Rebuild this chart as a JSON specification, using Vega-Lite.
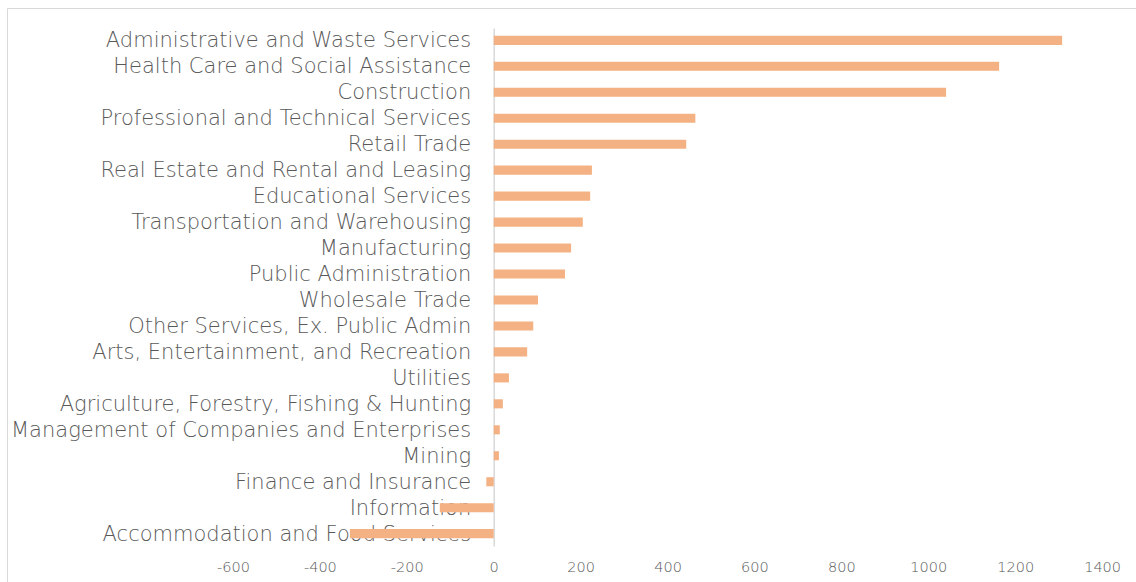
{
  "$schema": "https://vega.github.io/schema/vega-lite/v6.json",
  "width": 1136,
  "height": 582,
  "autosize": {"type": "fit", "contains": "padding"},
  "padding": {"left": 7, "top": 8, "right": 0, "bottom": 0},
  "background": "white",
  "config": {
    "view": {"stroke": "#D9D9D9", "strokeWidth": 1},
    "font": "DejaVu Sans"
  },
  "data": {
    "values": [
      {"industry": "Administrative and Waste Services", "change": 1308},
      {"industry": "Health Care and Social Assistance", "change": 1163},
      {"industry": "Construction", "change": 1041},
      {"industry": "Professional and Technical Services", "change": 464},
      {"industry": "Retail Trade", "change": 443},
      {"industry": "Real Estate and Rental and Leasing", "change": 226},
      {"industry": "Educational Services", "change": 222},
      {"industry": "Transportation and Warehousing", "change": 205},
      {"industry": "Manufacturing", "change": 178},
      {"industry": "Public Administration", "change": 164},
      {"industry": "Wholesale Trade", "change": 102},
      {"industry": "Other Services, Ex. Public Admin", "change": 91},
      {"industry": "Arts, Entertainment, and Recreation", "change": 77},
      {"industry": "Utilities", "change": 35},
      {"industry": "Agriculture, Forestry, Fishing & Hunting", "change": 21},
      {"industry": "Management of Companies and Enterprises", "change": 14},
      {"industry": "Mining", "change": 12},
      {"industry": "Finance and Insurance", "change": -17},
      {"industry": "Information", "change": -124},
      {"industry": "Accommodation and Food Services", "change": -331}
    ]
  },
  "mark": {"type": "bar", "color": "#F4B183"},
  "encoding": {
    "y": {
      "field": "industry",
      "type": "nominal",
      "sort": null,
      "scale": {"range": [20, 538], "paddingInner": 0.65, "paddingOuter": 0.3},
      "axis": {
        "title": null,
        "offset": -486.7,
        "ticks": false,
        "domain": true,
        "domainColor": "#D9D9D9",
        "domainWidth": 1.5,
        "labelPadding": 23,
        "labelOffset": 1,
        "labelFont": "DejaVu Sans",
        "labelFontWeight": 200,
        "labelFontSize": 21,
        "labelColor": "#595959",
        "labelLimit": 700
      }
    },
    "x": {
      "field": "change",
      "type": "quantitative",
      "scale": {"domain": [-1120, 1478], "nice": false, "zero": false},
      "axis": {
        "title": null,
        "values": [-600, -400, -200, 0, 200, 400, 600, 800, 1000, 1200, 1400],
        "labelExpr": "datum.value + ''",
        "grid": false,
        "ticks": false,
        "domain": false,
        "offset": -22,
        "labelPadding": 0,
        "labelFont": "DejaVu Sans",
        "labelFontWeight": 200,
        "labelFontSize": 14.5,
        "labelColor": "#595959"
      }
    }
  }
}
